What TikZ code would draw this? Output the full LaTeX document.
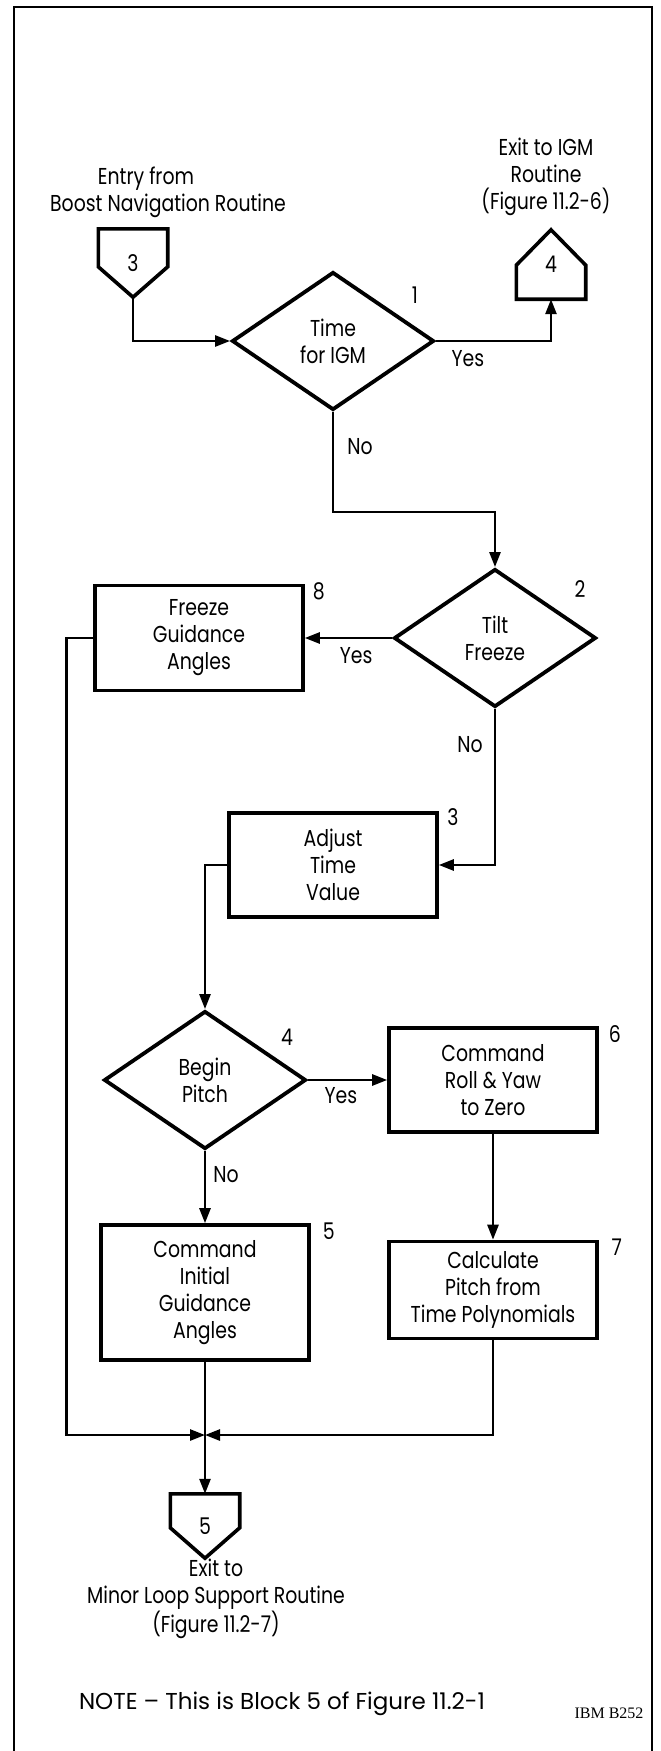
\documentclass[tikz,border=0pt]{standalone}
\usepackage{fontspec}
\setmainfont[FakeStretch=0.82]{Poppins}
\newfontfamily\notefont{Poppins}
\newfontfamily\ibmfont{Liberation Serif}
\usetikzlibrary{arrows.meta,positioning,shapes.geometric}

\begin{document}
\begin{tikzpicture}[x=1pt, y=-1pt, font=\fontsize{23}{27}\selectfont,
      box/.style={draw, line width=3.6pt, align=center, minimum width=208pt, inner sep=0pt},
      test/.style={draw, diamond, line width=3.8pt, align=center, minimum width=202pt,
                   minimum height=138pt, inner sep=0pt},
      conn/.style={minimum width=69pt, inner sep=0pt},
      outline/.style={line width=3.6pt, line join=miter},
      arr/.style={-{Triangle[length=15pt, width=11pt]}, line width=2.6pt},
      lbl/.style={inner sep=0pt}]
    \useasboundingbox (0,0) rectangle (661,1751);
    % frame
    \draw[line width=2.4pt] (14,1751) |- (652,7) -- (652,1751);
    % entry and exits
    \node[align=center] (entrytxt) at (168,192) {Entry from\hspace*{44pt}\\Boost Navigation Routine};
    \node[conn, minimum height=68pt] (c3) at (133,263) {3};
    \draw[outline] (c3.north west) -- (c3.north east) -- ([yshift=-38pt]c3.north east)
      -- (c3.south) -- ([yshift=-38pt]c3.north west) -- cycle;
    \node[align=center] (exit4txt) at (546,177) {Exit to IGM\\Routine\\(Figure 11.2-6)};
    \node[conn, minimum height=69pt] (c4) at (551,264.5) {4};
    \draw[outline] (c4.south west) -- (c4.south east) -- ([yshift=34pt]c4.south east)
      -- (c4.north) -- ([yshift=34pt]c4.south west) -- cycle;
    % decisions and blocks
    \node[test] (d1) at (333,341) {Time\\for IGM};
    \node[test] (d2) at (495,638) {Tilt\\Freeze};
    \node[box, minimum height=105pt] (b8) at (199,638) {Freeze\\Guidance\\Angles};
    \node[box, minimum height=104pt] (b3) at (333,865) {Adjust\\Time\\Value};
    \node[test] (d4) at (205,1080) {Begin\\Pitch};
    \node[box, minimum height=104pt] (b6) at (493,1080) {Command\\Roll \& Yaw\\to Zero};
    \node[box, minimum height=135pt] (b5) at (205,1292.5) {Command\\Initial\\Guidance\\Angles};
    \node[box, minimum height=97pt] (b7) at (493,1290) {Calculate\\Pitch from\\Time Polynomials};
    \node[conn, minimum height=64pt] (c5) at (205,1526) {5};
    \draw[outline] (c5.north west) -- (c5.north east) -- ([yshift=-34pt]c5.north east)
      -- (c5.south) -- ([yshift=-34pt]c5.north west) -- cycle;
    \node[align=center] (exit5txt) at (216,1599) {Exit to\\Minor Loop Support Routine\\(Figure 11.2-7)};
    \coordinate (m) at (205,1435);
    % block numbers
    \node[lbl] at ([shift={(82,-46)}]d1) {1};
    \node[lbl] at ([shift={(85,-49)}]d2) {2};
    \node[lbl] at ([shift={(82,-43)}]d4) {4};
    \node[lbl] at ([shift={(14,8)}]b8.north east) {8};
    \node[lbl] at ([shift={(14,6)}]b3.north east) {3};
    \node[lbl] at ([shift={(16,8)}]b6.north east) {6};
    \node[lbl] at ([shift={(18,8)}]b5.north east) {5};
    \node[lbl] at ([shift={(18,7)}]b7.north east) {7};
    % connectors
    \draw[arr] (c3.south) |- (d1.west);
    \draw[arr] (d1.east) -| (c4.south);
    \draw[arr] (d1.south) -- ++(0,100) -| (d2.north);
    \draw[arr] (d2.west) -- (b8.east);
    \draw[arr] (d2.south) |- (b3.east);
    \draw[arr] (b3.west) -| (d4.north);
    \draw[arr] (d4.east) -- (b6.west);
    \draw[arr] (d4.south) -- (b5.north);
    \draw[arr] (b6.south) -- (b7.north);
    \draw[arr] (b5.south) -- (c5.north);
    \draw[arr] (b8.west) -- ++(-27,0) |- (m);
    \draw[arr] (b7.south) |- (m);
    % branch labels
    \node[lbl] at ([shift={(32,18)}]d1.east) {Yes};
    \node[lbl] at ([shift={(27,35)}]d1.south) {No};
    \node[lbl] at ([shift={(-36,18)}]d2.west) {Yes};
    \node[lbl] at ([shift={(-25,36)}]d2.south) {No};
    \node[lbl] at ([shift={(33,16)}]d4.east) {Yes};
    \node[lbl] at ([shift={(21,24)}]d4.south) {No};
    % note
    \node[font=\notefont\fontsize{23}{27}\selectfont] (note) at (282,1704)
      {NOTE – This is Block 5 of Figure 11.2-1};
    \node[font=\ibmfont\fontsize{16}{18}\selectfont] (ibm) at (609,1713) {IBM B252};
\end{tikzpicture}
\end{document}
